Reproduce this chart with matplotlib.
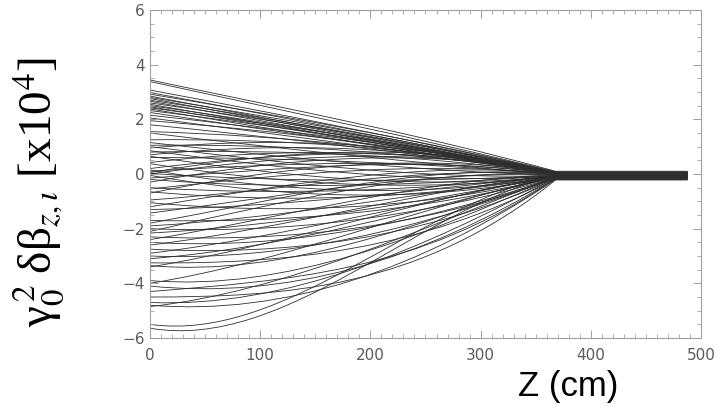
import numpy as np
import matplotlib
matplotlib.use("Agg")
import matplotlib.pyplot as plt
from matplotlib.path import Path
from matplotlib.patches import PathPatch
from matplotlib.ticker import MultipleLocator

plt.rcParams['mathtext.fontset'] = 'stix'

# each trajectory: value at Z=0, two Bezier shape values, value after convergence
y_start = [3.44, 3.38, 3.07, 2.98, 2.92, 2.85, 2.80, 2.76, 2.70, 2.66, 2.60,
           2.55, 2.50, 2.46, 2.42, 2.38, 2.32, 2.25, 2.15, 2.05, 1.95, 1.80,
           1.55, 1.50, 1.25, 1.15, 1.05, 1.00, 0.95, 0.85, 0.80, 0.70, 0.65, 0.60,
           0.42, 0.38, 0.20, 0.15, 0.10, 0.05, 0.02, 0.00, -0.05, -0.15, -0.20,
           -0.30, -0.50, -0.55, -0.65, -0.70,
           -0.95, -1.05, -1.20, -1.30, -1.43, -1.70, -1.80, -1.90, -2.00, -2.10,
           -2.16, -2.30,
           -2.40, -2.50, -2.60, -2.75, -2.90, -3.00, -3.10, -3.25, -3.40, -3.35,
           -3.90, -4.00, -4.10, -4.50, -4.70, -4.80, -4.85, -4.30,
           -5.50, -5.64]
shape_a = [2.40, 2.30, 2.15, 2.05, 2.10, 1.90, 2.00, 1.85, 1.95, 1.80, 1.90,
           1.70, 1.80, 1.65, 1.75, 1.55, 1.70, 1.50, 1.60, 1.40, 1.55, 1.30,
           1.40, 0.90, 1.30, 0.60, 1.10, 0.40, 1.40, 0.20, 0.90, 1.20, -0.10, 0.60,
           1.00, -0.40, 0.80, -0.70, 0.40, 0.90, -0.30, 0.70, -0.90, 0.20, -0.60,
           0.60, -0.80, 0.00, -1.10, 0.30,
           -0.60, -1.50, -0.40, -1.20, -0.80, -1.80, -0.90, -1.60, -2.20, -1.00,
           -1.90, -2.50,
           -1.60, -2.80, -2.00, -3.00, -2.30, -3.20, -2.70, -3.30, -2.60, -3.80,
           -4.30, -3.20, -4.60, -4.50, -4.90, -5.20, -4.30, -3.90,
           -6.20, -6.50]
shape_b = [1.45, 1.30, 1.20, 1.10, 1.25, 1.00, 1.15, 0.95, 1.10, 0.90, 1.10,
           0.85, 1.00, 0.90, 1.05, 0.80, 1.00, 0.85, 1.00, 0.80, 0.95, 0.75,
           0.90, 0.40, 0.95, 0.10, 0.80, -0.20, 1.10, -0.40, 0.70, 1.00, -0.60, 0.40,
           0.90, -0.70, 1.10, -0.90, 0.60, 1.20, -0.30, 1.00, -1.10, 0.70, -0.40,
           1.00, -0.60, 0.50, -0.90, 0.80,
           0.30, -1.30, 0.50, -0.60, 0.10, -1.40, 0.40, -0.70, -1.60, 0.20,
           -1.00, -2.00,
           -0.20, -1.80, -0.60, -2.40, -1.00, -2.00, -1.30, -2.80, -0.90, -1.80,
           -2.30, -1.20, -3.20, -4.20, -2.80, -3.50, -2.00, -3.60,
           -1.00, -1.20]
y_end = [0.10, 0.08, 0.06, 0.05, 0.07, 0.04, 0.06, 0.03, 0.05, 0.02, 0.06,
         0.02, 0.04, 0.03, 0.05, 0.01, 0.04, 0.02, 0.03, 0.01, 0.03, 0.00,
         0.02, -0.02, 0.03, -0.04, 0.02, -0.06, 0.04, -0.07, 0.01, 0.03, -0.08, 0.00,
         0.02, -0.08, 0.03, -0.09, 0.01, 0.04, -0.05, 0.02, -0.10, 0.00, -0.06,
         0.03, -0.07, 0.00, -0.09, 0.02,
         0.00, -0.11, 0.01, -0.06, -0.02, -0.12, 0.01, -0.07, -0.13, -0.01,
         -0.09, -0.15,
         -0.03, -0.14, -0.05, -0.17, -0.08, -0.15, -0.10, -0.19, -0.06, -0.12,
         -0.13, -0.08, -0.18, -0.22, -0.14, -0.20, -0.11, -0.16,
         -0.05, -0.07]

z_focus = 368.0   # where all trajectories meet
z_stop = 488.0    # end of the flat section

fig = plt.figure(figsize=(7.16, 4.09), dpi=100)
ax = fig.add_axes([0.2095, 0.1736, 0.7695, 0.802])

codes = [Path.MOVETO, Path.CURVE4, Path.CURVE4, Path.CURVE4, Path.LINETO]
for y0, a, b, ye in zip(y_start, shape_a, shape_b, y_end):
    verts = [(0.0, y0), (z_focus / 3, a), (2 * z_focus / 3, b),
             (z_focus, ye), (z_stop, ye)]
    ax.add_patch(PathPatch(Path(verts, codes), fill=False,
                           edgecolor='#2e2e2e', lw=0.6))

ax.set_xlim(0, 500)
ax.set_ylim(-6, 6)
ax.xaxis.set_major_locator(MultipleLocator(100))
ax.xaxis.set_minor_locator(MultipleLocator(10))
ax.yaxis.set_major_locator(MultipleLocator(2))
ax.yaxis.set_minor_locator(MultipleLocator(0.5))

ax.tick_params(which='both', direction='in', top=True, right=True,
               color='#a0a0a0', labelcolor='#5a5a5a', labelsize=11)
ax.tick_params(which='major', length=6, width=0.7)
ax.tick_params(which='minor', length=3, width=0.6)
ax.tick_params(axis='x', pad=7)
ax.tick_params(axis='y', pad=4)
for s in ax.spines.values():
    s.set_color('#a0a0a0')
    s.set_linewidth(0.8)

# upright Greek letters with math sub/superscripts
ylab = 'γ${}_0^{\\,2}$\u2009δβ${}_{z,\\iota}$ [x10$^4$]'
fig.text(0.053, 0.53, ylab, rotation=90, ha='center', va='center',
         fontsize=34, family='Liberation Serif')
fig.text(0.793, 0.056, 'Z (cm)', ha='center', va='center', fontsize=25,
         family='Liberation Sans')

fig.savefig('out.png', dpi=100)
